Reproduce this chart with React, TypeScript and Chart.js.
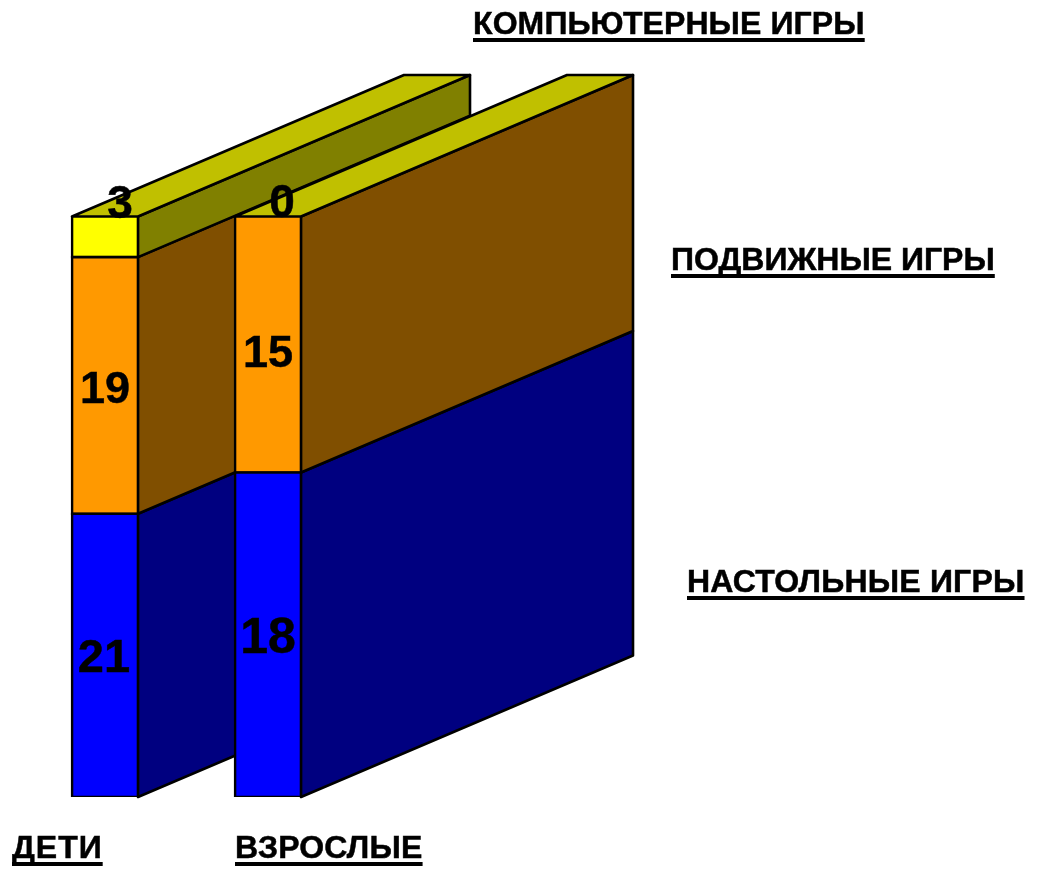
import React, { useEffect, useRef } from "react";
import { Chart, registerables } from "chart.js";

Chart.register(...registerables);

// Categories and series
const categories = ["ДЕТИ", "ВЗРОСЛЫЕ"];
const seriesNames = ["НАСТОЛЬНЫЕ ИГРЫ", "ПОДВИЖНЫЕ ИГРЫ", "КОМПЬЮТЕРНЫЕ ИГРЫ"];

// Share of each column (100% stacked)
const boardShare = [48.8, 55.9];
const activeShare = [44.2, 44.1];
const computerShare = [7.0, 0];

// Numbers printed on the columns
const boardLabels = ["21", "18"];
const activeLabels = ["19", "15"];
const computerLabels = ["3", "0"];

const FONT = '"Liberation Sans", Arial, sans-serif';

const frontColors = ["#0000FF", "#FF9900", "#FFFF00"];
const sideColors = ["#000080", "#804F00", "#808000"];
const topColor = "#C0C000";
const DEPTH_X = 332;
const DEPTH_Y = -141.5;
const LINE = 2.6;
const TEXT_WEIGHT = 0.5;

const printed = [boardLabels, activeLabels, computerLabels];
// [dx, dy, font size] for each printed number by dataset / category
const labelStyle = [
  [[-1, 4, 47], [0, 4, 50]],
  [[0, 5, 45], [0, 10, 45]],
  [[15, -32, 46], [14, -12, 46]],
];

// Free-standing captions: text, left x, baseline y, letter spacing
const captions: [string, number, number, number][] = [
  [categories[0], 12, 858, 1],
  [categories[1], 235, 858, 0.2],
  [seriesNames[2], 473, 34, 0.1],
  [seriesNames[1], 671, 270, 0],
  [seriesNames[0], 687, 592, 0.2],
];

const depthPlugin = {
  id: "depth",
  beforeDatasetsDraw(chart: any) {
    const ctx = chart.ctx;
    ctx.save();
    ctx.strokeStyle = "#000";
    ctx.lineWidth = LINE;
    ctx.lineJoin = "round";
    categories.forEach((_, c) => {
      frontColors.forEach((__, d) => {
        const el = chart.getDatasetMeta(d).data[c];
        const half = el.width / 2;
        const r = el.x + half;
        const l = el.x - half;
        const t = el.y;
        const b = el.base;
        if (b - t > 0.01) {
          ctx.beginPath();
          ctx.moveTo(r, t);
          ctx.lineTo(r + DEPTH_X, t + DEPTH_Y);
          ctx.lineTo(r + DEPTH_X, b + DEPTH_Y);
          ctx.lineTo(r, b);
          ctx.closePath();
          ctx.fillStyle = sideColors[d];
          ctx.fill();
          ctx.stroke();
        }
        if (d === frontColors.length - 1) {
          ctx.beginPath();
          ctx.moveTo(l, t);
          ctx.lineTo(l + DEPTH_X, t + DEPTH_Y);
          ctx.lineTo(r + DEPTH_X, t + DEPTH_Y);
          ctx.lineTo(r, t);
          ctx.closePath();
          ctx.fillStyle = topColor;
          ctx.fill();
          ctx.stroke();
        }
      });
    });
    ctx.restore();
  },
  afterDatasetsDraw(chart: any) {
    const ctx = chart.ctx;
    ctx.save();
    ctx.fillStyle = "#000";
    ctx.strokeStyle = "#000";
    ctx.lineWidth = TEXT_WEIGHT;
    ctx.textAlign = "center";
    ctx.textBaseline = "middle";
    printed.forEach((labels, d) => {
      labels.forEach((text, c) => {
        const el = chart.getDatasetMeta(d).data[c];
        const [dx, dy, size] = labelStyle[d][c];
        const y = (el.y + el.base) / 2 + dy;
        ctx.font = `bold ${size}px ${FONT}`;
        ctx.fillText(text, el.x + dx, y);
        ctx.strokeText(text, el.x + dx, y);
      });
    });
    ctx.font = `bold 32px ${FONT}`;
    ctx.textAlign = "left";
    ctx.textBaseline = "alphabetic";
    captions.forEach(([text, x, y, spacing]) => {
      ctx.letterSpacing = `${spacing}px`;
      ctx.fillText(text, x, y);
      ctx.strokeText(text, x, y);
      ctx.fillRect(x, y + 4, ctx.measureText(text).width, 4);
    });
    ctx.restore();
  },
};

export default function App() {
  const ref = useRef<HTMLCanvasElement>(null);
  useEffect(() => {
    const chart = new Chart(ref.current as HTMLCanvasElement, {
      type: "bar",
      data: {
        labels: categories,
        datasets: [boardShare, activeShare, computerShare].map((data, i) => ({
          label: seriesNames[i],
          data,
          backgroundColor: frontColors[i],
          borderColor: "#000",
          borderWidth: LINE,
          borderSkipped: false,
          inflateAmount: LINE / 2,
          barPercentage: 66 / 163,
          categoryPercentage: 1,
        })),
      },
      options: {
        responsive: false,
        animation: false,
        layout: { padding: { left: 23.5, right: 687.5, top: 216.5, bottom: 73 } },
        plugins: { legend: { display: false }, tooltip: { enabled: false } },
        scales: {
          x: { stacked: true, display: false },
          y: { stacked: true, display: false, min: 0, max: 100 },
        },
      },
      plugins: [depthPlugin],
    } as any);
    return () => chart.destroy();
  }, []);
  return (
    <canvas
      ref={ref}
      width={1037}
      height={870}
      style={{ position: "absolute", left: 0, top: 0, display: "block", background: "#fff" }}
    />
  );
}
